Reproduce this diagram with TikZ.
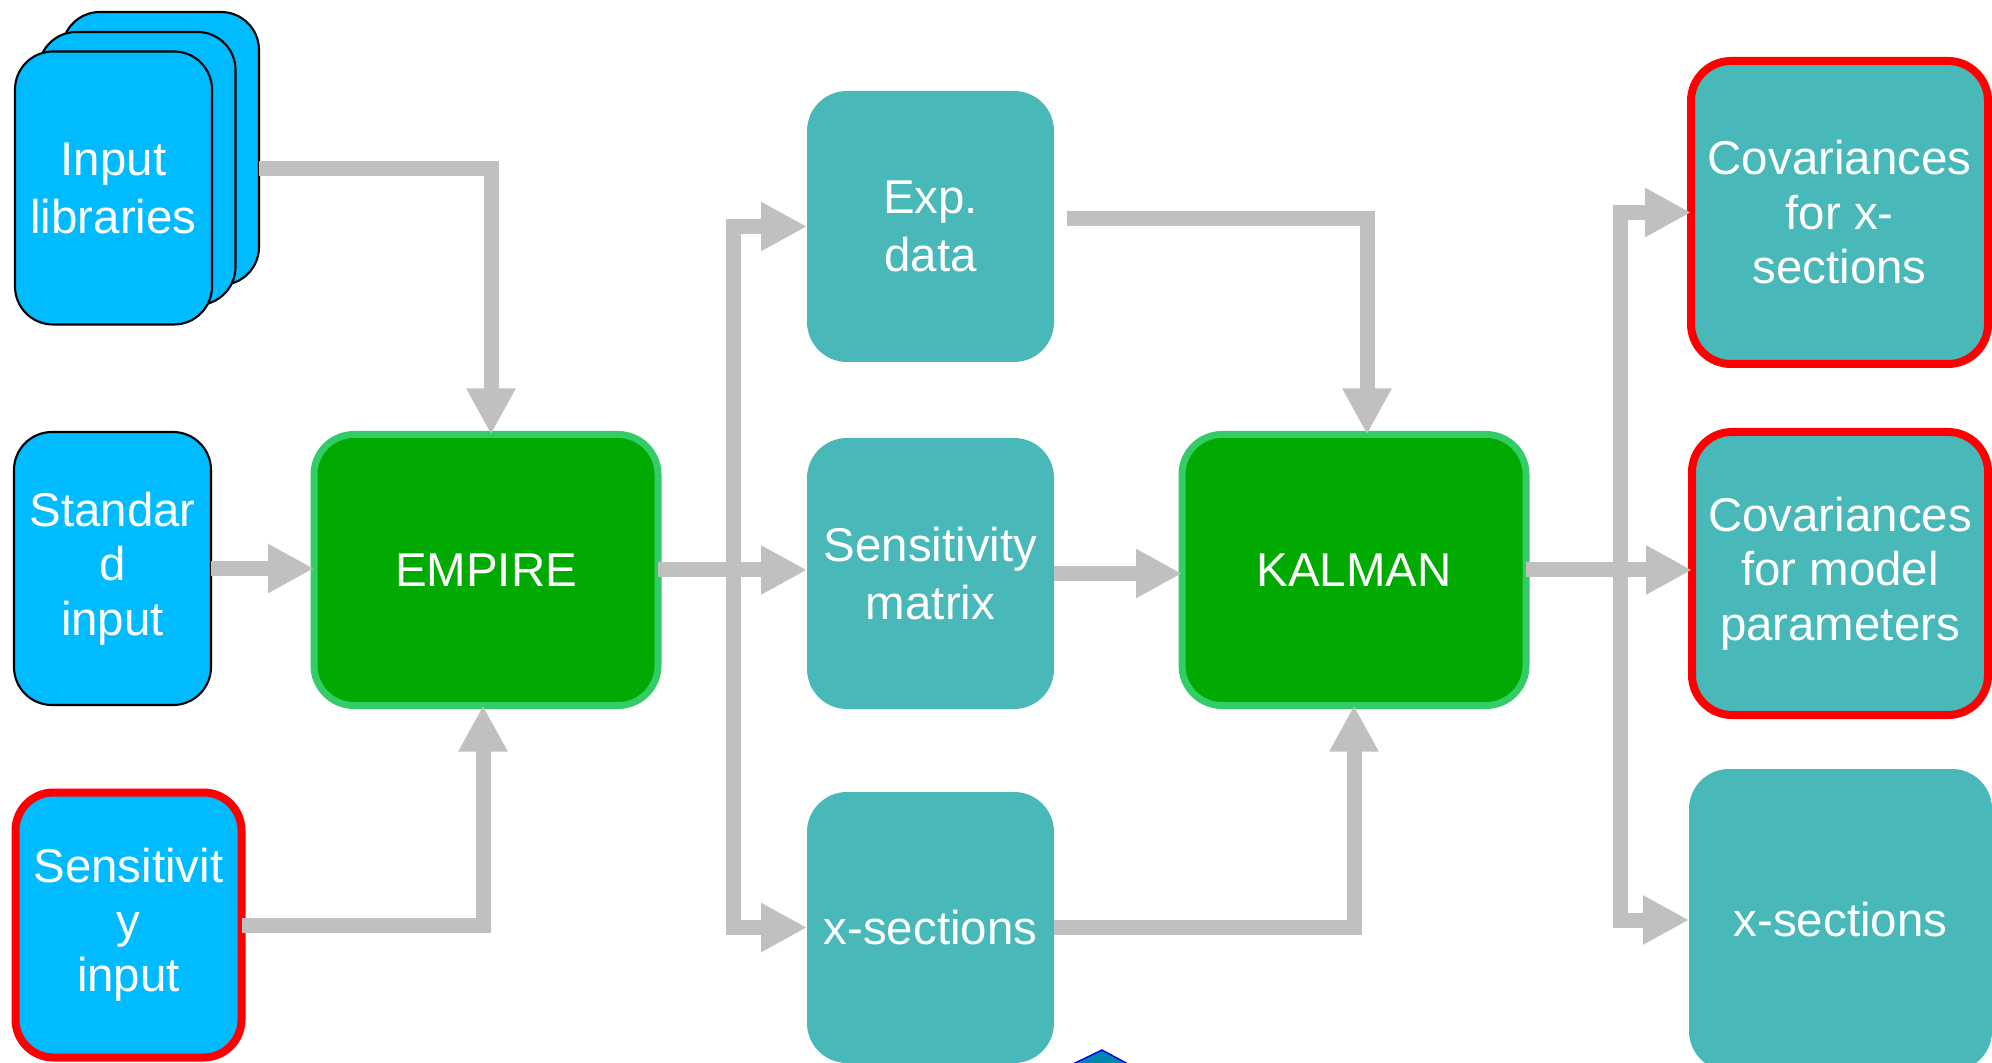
\documentclass[tikz,border=0pt]{standalone}
\usepackage{fontspec}
\setmainfont{Liberation Sans}
\usepackage{tikz}
\usetikzlibrary{arrows.meta, positioning}

\definecolor{cardblue}{RGB}{0,187,255}
\definecolor{boxteal}{RGB}{72,184,184}
\definecolor{progfill}{RGB}{0,170,0}
\definecolor{progedge}{RGB}{51,204,102}
\definecolor{flowgray}{RGB}{192,192,192}
\definecolor{markfill}{RGB}{0,136,170}

\begin{document}
\begin{tikzpicture}[>={Triangle[length=4.6mm,width=4.6mm]}, node distance=1cm, on grid,
	txt/.style={text=white, align=center, font=\fontsize{13.5}{16.5}\selectfont, inner sep=0pt, outer sep=0pt},
	three/.style={font=\fontsize{13.5}{15.5}\selectfont},
	card/.style={txt, rectangle, rounded corners=3.8mm, fill=cardblue, draw=black, line width=0.6pt, minimum width=1.97cm, minimum height=2.73cm},
	prog/.style={txt, rectangle, rounded corners=4mm, fill=progfill, draw=progedge, line width=0.07cm, minimum width=3.44cm, minimum height=2.71cm},
	data/.style={txt, rectangle, rounded corners=4mm, fill=boxteal, minimum width=2.47cm, minimum height=2.71cm},
	hot/.style={draw=red, line width=0.08cm},
	flow/.style={->, draw=flowgray, line width=1.5mm}]

		\useasboundingbox (0,0) rectangle (19.92,-10.63);

		% inputs
		\node[card] (L0c) at (1.605,-1.485) 													{};
		\node[card] (L0b) [below left=0.2cm and 0.235cm of L0c] 			{};
		\node[card] (L0) 	[below left=0.195cm and 0.235cm of L0b] 		{Input\\libraries};
		\node[card, three] (L1) at (1.125,-5.685) 										{Standar\\d\\input};
		\node[card, three, hot, minimum width=2.26cm, minimum height=2.65cm] (L2) at (1.285,-9.25) {Sensitivit\\y\\input};

		% codes and data
		\node[prog] (E) at (4.86,-5.70) 															{EMPIRE};
		\node[data] (D1) at (9.305,-5.735) 														{Sensitivity\\matrix};
		\node[data] (D0) [above=3.47cm of D1] 												{Exp.\\data};
		\node[data] (D2) [below=3.54cm of D1] 												{x-sections};
		\node[prog] (K) at (13.54,-5.70) 															{KALMAN};

		% outputs
		\node[data, three, hot, minimum width=2.97cm, minimum height=3.03cm] (R0) at (18.395,-2.125) {Covariances\\for x-\\sections};
		\node[data, three, hot, minimum width=2.96cm, minimum height=2.83cm] (R1) at (18.40,-5.735) {Covariances\\for model\\parameters};
		\node[data, minimum width=3.03cm, minimum height=3.02cm] (R2) at (18.405,-9.2) {x-sections};

		\coordinate (J0) at (7.33,-5.70);
		\coordinate (J1) at (16.20,-5.70);

    \draw[flow] ([yshift=-2mm]L0c.east) -| ([xshift=0.5mm]E.north);
    \draw[flow] (L1.east) -- (L1.east -| E.west);
    \draw[flow] (L2.east) -| ([xshift=-0.3mm]E.south);

    \draw[flow] (E.east) -- (E.east -| D1.west);
    \draw[flow] (J0) |- (D0.west);
    \draw[flow] (J0) |- (D2.west);

    \draw[flow] ([shift={(0.13,0.08)}]D0.east) -| ([xshift=1.3mm]K.north);
    \draw[flow] (D1.east) -- (D1.east -| K.west);
    \draw[flow] (D2.east) -| (K.south);

    \draw[flow] (K.east) -- (K.east -| R1.west);
    \draw[flow] (J1) |- (R0.west);
    \draw[flow] (J1) |- (R2.west);

		\filldraw[draw=blue, fill=markfill, line width=0.4pt] (10.73,-10.64) -- (11.02,-10.50) -- (11.28,-10.64);

	\end{tikzpicture}
\end{document}
